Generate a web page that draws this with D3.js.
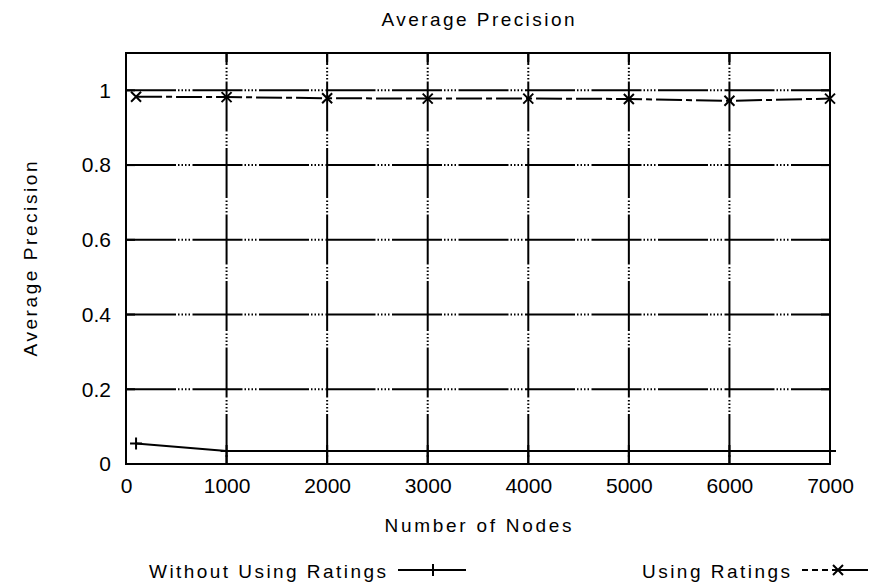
<!DOCTYPE html>
<html><head><meta charset="utf-8">
<script src="https://cdn.jsdelivr.net/npm/d3@7"></script>
<style>body{margin:0;background:#fff}svg{display:block}text{font-family:"Liberation Sans",Arial,sans-serif;fill:#000}</style>
</head><body>
<svg id="c" width="881" height="585"></svg>
<script>
const nodes = [100, 1000, 2000, 3000, 4000, 5000, 6000, 7000];
const usingRatings = [0.983, 0.982, 0.979, 0.978, 0.978, 0.977, 0.972, 0.978];
const withoutRatings = [0.055, 0.035, 0.035, 0.035, 0.035, 0.035, 0.035, 0.035];
const xTicks = [0, 1000, 2000, 3000, 4000, 5000, 6000, 7000];
const yTicks = [0, 0.2, 0.4, 0.6, 0.8, 1];
const yTickLabels = ["0", "0.2", "0.4", "0.6", "0.8", "1"];

const svg = d3.select("#c");
const L = 126, R = 830, T = 53, B = 464;
const x = d3.scaleLinear().domain([0, 7000]).range([L, R]);
const y = d3.scaleLinear().domain([0, 1.1]).range([B, T]);
const gridDash = "50,2,1.5,2,1.5,2,1.5,2,1.5,2.5";

// grid
const g = svg.append("g");
xTicks.slice(1, -1).forEach(t => {
  g.append("line").attr("x1", x(t)).attr("x2", x(t)).attr("y1", B).attr("y2", T)
    .attr("stroke", "#000").attr("stroke-width", 2).attr("stroke-dasharray", gridDash);
});
yTicks.slice(1).forEach(t => {
  g.append("line").attr("x1", L).attr("x2", R).attr("y1", y(t)).attr("y2", y(t))
    .attr("stroke", "#000").attr("stroke-width", 2).attr("stroke-dasharray", gridDash);
});

// axes with mirrored inward ticks
const axB = d3.axisBottom(x).tickValues(xTicks).tickSize(0).tickPadding(14).tickFormat(d3.format("d"));
const gb = svg.append("g").attr("transform", `translate(0,${B})`).call(axB);
gb.select(".domain").remove();
gb.selectAll("text").attr("font-size", 21).attr("fill", "#000").attr("font-family", '"Liberation Sans",Arial,sans-serif');

const axL = d3.axisLeft(y).tickValues(yTicks).tickSize(0).tickPadding(15).tickFormat((d, i) => yTickLabels[i]);
const gl = svg.append("g").attr("transform", `translate(${L},0)`).call(axL);
gl.select(".domain").remove();
gl.selectAll("text").attr("font-size", 21).attr("fill", "#000").attr("font-family", '"Liberation Sans",Arial,sans-serif');

const tk = svg.append("g").attr("stroke", "#000").attr("stroke-width", 2);
xTicks.forEach(t => {
  tk.append("line").attr("x1", x(t)).attr("x2", x(t)).attr("y1", B).attr("y2", B - 9);
  tk.append("line").attr("x1", x(t)).attr("x2", x(t)).attr("y1", T).attr("y2", T + 9);
});
yTicks.forEach(t => {
  tk.append("line").attr("x1", L).attr("x2", L + 9).attr("y1", y(t)).attr("y2", y(t));
  tk.append("line").attr("x1", R).attr("x2", R - 9).attr("y1", y(t)).attr("y2", y(t));
});

// frame
svg.append("rect").attr("x", L).attr("y", T).attr("width", R - L).attr("height", B - T)
  .attr("fill", "none").attr("stroke", "#000").attr("stroke-width", 2);

// series
const line = d3.line().x(d => x(d[0])).y(d => y(d[1]));
const wData = nodes.map((n, i) => [n, withoutRatings[i]]);
const uData = nodes.map((n, i) => [n, usingRatings[i]]);
svg.append("path").attr("d", line(wData)).attr("fill", "none").attr("stroke", "#000").attr("stroke-width", 2);
svg.append("path").attr("d", line(uData)).attr("fill", "none").attr("stroke", "#000").attr("stroke-width", 2)
  .attr("stroke-dasharray", "26,4,6,4");

function plus(px, py, s) {
  svg.append("path").attr("d", `M${px - s},${py}H${px + s}M${px},${py - s}V${py + s}`)
    .attr("stroke", "#000").attr("stroke-width", 2).attr("fill", "none");
}
function cross(px, py, s) {
  svg.append("path").attr("d", `M${px - s},${py - s}L${px + s},${py + s}M${px - s},${py + s}L${px + s},${py - s}`)
    .attr("stroke", "#000").attr("stroke-width", 2).attr("fill", "none");
}
wData.forEach(d => plus(x(d[0]), y(d[1]), 6));
uData.forEach(d => cross(x(d[0]), y(d[1]), 5));

// titles
svg.append("text").attr("x", 478).attr("y", 26).attr("text-anchor", "middle").attr("font-size", 19)
  .attr("textLength", 193).attr("lengthAdjust", "spacing").text("Average Precision");
svg.append("text").attr("x", 478).attr("y", 532).attr("text-anchor", "middle").attr("font-size", 19)
  .attr("textLength", 187).attr("lengthAdjust", "spacing").text("Number of Nodes");
svg.append("text").attr("transform", "translate(37,259) rotate(-90)").attr("text-anchor", "middle").attr("font-size", 19)
  .attr("textLength", 195).attr("lengthAdjust", "spacing").text("Average Precision");

// legend
svg.append("text").attr("x", 149).attr("y", 578).attr("font-size", 19)
  .attr("textLength", 237).attr("lengthAdjust", "spacing").text("Without Using Ratings");
svg.append("line").attr("x1", 398).attr("x2", 466).attr("y1", 570).attr("y2", 570).attr("stroke", "#000").attr("stroke-width", 2);
plus(433, 570, 6);
svg.append("text").attr("x", 642).attr("y", 578).attr("font-size", 19)
  .attr("textLength", 148).attr("lengthAdjust", "spacing").text("Using Ratings");
svg.append("line").attr("x1", 802).attr("x2", 868).attr("y1", 570).attr("y2", 570).attr("stroke", "#000").attr("stroke-width", 2)
  .attr("stroke-dasharray", "6,4,6,4,6,4,40");
cross(838, 570, 5);
</script>
</body></html>
